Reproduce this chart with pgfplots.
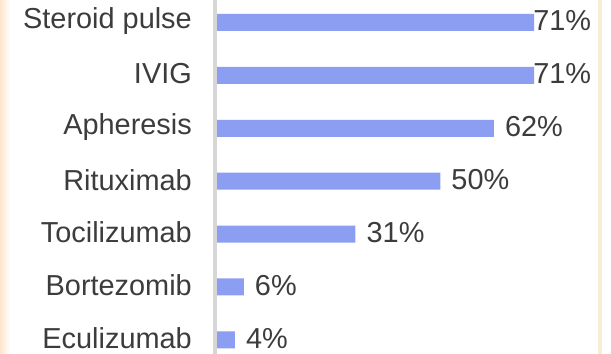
\documentclass[border=0pt]{standalone}
\usepackage{pgfplots}
\pgfplotsset{compat=1.18}
\usepackage{fontspec}
\setmainfont{Liberation Sans}
\definecolor{barc}{RGB}{140,158,242}
\definecolor{txt}{RGB}{60,60,60}
\definecolor{peach}{RGB}{253,230,205}
\definecolor{cream}{RGB}{247,238,213}
\definecolor{axgray}{RGB}{214,214,214}
\begin{document}
\begin{tikzpicture}
\useasboundingbox (-215bp,0) rectangle (396bp,354bp);
\fill[white] (-215bp,0) rectangle (396bp,354bp);
\shade[left color=peach, right color=white] (-215bp,0) rectangle (-205bp,354bp);
\fill[cream] (383bp,0) rectangle (387bp,354bp);
\begin{axis}[
  scale only axis, width=385bp, height=354bp,
  xmin=-0.45, xmax=85.77, ymin=-0.425, ymax=6.267, y dir=reverse,
  xbar, bar width=17bp,
  axis x line=none, axis y line*=left,
  y axis line style={draw=axgray, line width=3.5bp},
  ytick={0,1,2,3,4,5,6},
  yticklabels={Steroid pulse,IVIG,Apheresis,Rituximab,Tocilizumab,Bortezomib,Eculizumab},
  major tick length=0pt,
  yticklabel style={font=\fontsize{29}{34}\selectfont, text=txt, inner xsep=0pt, inner ysep=0pt, xshift=-23bp, yshift=1.5bp},
  /pgf/number format/assume math mode=true,
  point meta=x,
  nodes near coords={\pgfmathprintnumber{\pgfplotspointmeta}\%},
  every node near coord/.append style={font=\fontsize{29}{34}\selectfont, text=txt, anchor=west, inner xsep=0pt, inner ysep=0pt, yshift=1.5bp},
]
\addplot[fill=barc, draw=none, bar shift=0pt, nodes near coords style={xshift=11bp}]
  coordinates {(62,2) (50,3) (31,4) (6,5) (4,6)};
\addplot[fill=barc, draw=none, bar shift=0pt, nodes near coords style={xshift=-1bp}]
  coordinates {(71,0) (71,1)};
\end{axis}
\end{tikzpicture}
\end{document}
